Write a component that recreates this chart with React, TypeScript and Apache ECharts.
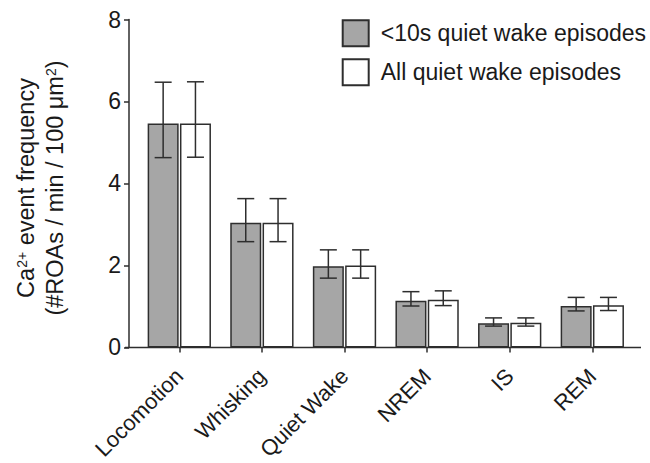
import React, { useEffect, useRef } from 'react';
import * as echarts from 'echarts';

const categories = ['Locomotion', 'Whisking', 'Quiet Wake', 'NREM', 'IS', 'REM'];
const seriesNames = ['<10s quiet wake episodes', 'All quiet wake episodes'];
const shortMeans = [5.46, 3.04, 1.98, 1.14, 0.59, 1.01];
const shortUpper = [6.47, 3.63, 2.38, 1.36, 0.72, 1.22];
const shortLower = [4.63, 2.58, 1.69, 1.01, 0.52, 0.89];
const allMeans = [5.46, 3.04, 2.0, 1.16, 0.6, 1.03];
const allUpper = [6.48, 3.63, 2.38, 1.38, 0.72, 1.22];
const allLower = [4.64, 2.58, 1.69, 1.02, 0.52, 0.9];
const yMin = 0;
const yMax = 8;
const yInterval = 2;

const FONT = '"Liberation Sans", Arial, Helvetica, sans-serif';
const INK = '#1a1a1a';
const LINE = '#2e2e2e';
const BAR_W = 31;
const BAR_GAP_PX = 1.3;

export default function App() {
  const ref = useRef<HTMLDivElement>(null);
  useEffect(() => {
    document.body.style.margin = '0';
    if (!ref.current) return;
    const chart = echarts.init(ref.current, undefined, { renderer: 'svg' });
    const off = (BAR_W + BAR_GAP_PX) / 2;
    const errStyle = { stroke: LINE, lineWidth: 1.5 };
    const errSeries = (upper: number[], lower: number[], dx: number) => ({
      type: 'custom',
      silent: true,
      z: 10,
      data: categories.map((_, i) => [i, lower[i], upper[i]]),
      encode: { x: 0, y: [1, 2] },
      renderItem: (params: any, api: any) => {
        const i = api.value(0);
        const lo = api.coord([i, api.value(1)]);
        const hi = api.coord([i, api.value(2)]);
        const x = lo[0] + dx;
        const hw = 8.5;
        return {
          type: 'group',
          children: [
            { type: 'line', shape: { x1: x, y1: hi[1], x2: x, y2: lo[1] }, style: errStyle },
            { type: 'line', shape: { x1: x - hw, y1: hi[1], x2: x + hw, y2: hi[1] }, style: errStyle },
            { type: 'line', shape: { x1: x - hw, y1: lo[1], x2: x + hw, y2: lo[1] }, style: errStyle },
          ],
        };
      },
    });
    const gridLeft = 138;
    const gridRight = 16.4;
    chart.setOption({
      animation: false,
      textStyle: { fontFamily: FONT },
      grid: { left: gridLeft, right: gridRight, top: 19.5, bottom: 113.5 },
      legend: {
        orient: 'vertical',
        left: 341.7,
        top: 19.3,
        padding: 0,
        itemWidth: 26,
        itemHeight: 26,
        itemGap: 11,
        icon: 'rect',
        data: seriesNames,
        selectedMode: false,
        textStyle: { fontSize: 23, color: INK, fontFamily: FONT, padding: [0, 0, 0, 7] },
      },
      xAxis: {
        type: 'category',
        data: categories,
        axisLine: { show: false },
        axisTick: { show: true, alignWithLabel: true, length: 5, lineStyle: { color: LINE, width: 1.5 } },
        axisLabel: { rotate: 45, interval: 0, margin: 25, fontSize: 22, color: INK, fontFamily: FONT },
      },
      yAxis: {
        type: 'value',
        min: yMin,
        max: yMax,
        interval: yInterval,
        offset: 9,
        axisLine: { show: true, lineStyle: { color: LINE, width: 1.5 } },
        axisTick: { show: true, length: 5, lineStyle: { color: LINE, width: 1.5 } },
        axisLabel: { fontSize: 23, color: INK, margin: 8, fontFamily: FONT },
        splitLine: { show: false },
      },
      series: [
        {
          name: seriesNames[0],
          type: 'bar',
          data: shortMeans,
          barWidth: BAR_W,
          barGap: (BAR_GAP_PX / BAR_W) * 100 + '%',
          itemStyle: { color: '#a6a6a6', borderColor: LINE, borderWidth: 1.5 },
        },
        {
          name: seriesNames[1],
          type: 'bar',
          data: allMeans,
          barWidth: BAR_W,
          barGap: (BAR_GAP_PX / BAR_W) * 100 + '%',
          itemStyle: { color: '#ffffff', borderColor: LINE, borderWidth: 1.5 },
        },
        errSeries(shortUpper, shortLower, -off),
        errSeries(allUpper, allLower, off),
      ],
    });
    const y0 = chart.convertToPixel({ yAxisIndex: 0 }, 0) as number;
    const axisX = gridLeft - 9;
    chart.setOption({
      graphic: [
        {
          type: 'text',
          x: 40,
          y: 188,
          rotation: Math.PI / 2,
          style: {
            text: '{a|Ca}{s|2+}{a| event frequency}\n{a|(#ROAs / min / 100 μm}{s|2}{a|)}',
            align: 'center',
            verticalAlign: 'middle',
            fill: INK,
            fontFamily: FONT,
            rich: {
              a: { fontSize: 23.5, lineHeight: 29, fill: INK, fontFamily: FONT },
              s: { fontSize: 14, fill: INK, fontFamily: FONT, verticalAlign: 'top', padding: [4, 0, 0, 0] },
            },
          },
        },
        {
          type: 'line',
          shape: { x1: axisX - 4, y1: y0, x2: 641, y2: y0 },
          style: { stroke: LINE, lineWidth: 1.5 },
          z: 5,
        },
      ],
    });
    return () => chart.dispose();
  }, []);
  return <div ref={ref} style={{ width: 650, height: 463 }} />;
}
